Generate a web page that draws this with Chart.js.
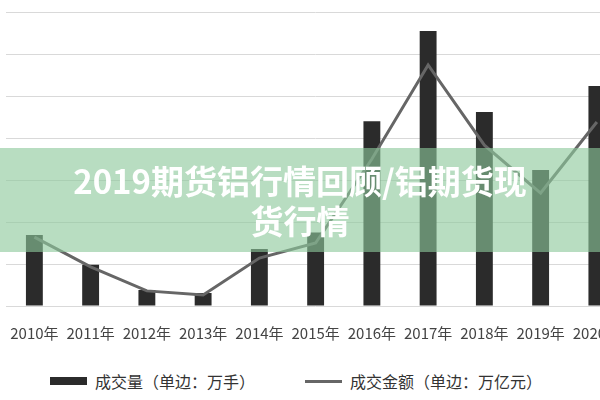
<!DOCTYPE html>
<html>
<head>
<meta charset="utf-8">
<script src="https://cdn.jsdelivr.net/npm/chart.js@4"></script>
<style>
body { margin: 0; width: 600px; height: 400px; overflow: hidden; background: #fff; position: relative; font-family: "Noto Sans CJK SC", sans-serif; }
#wrap { position: absolute; left: 0; top: 0; width: 632px; height: 352px; }
#banner { position: absolute; left: 0; top: 148px; width: 600px; height: 104px; background: rgba(140, 200, 155, 0.62);
  color: #fff; font-weight: bold; font-size: 33px; line-height: 40px; text-align: center; padding-top: 12px; box-sizing: border-box; }
.leg { position: absolute; top: 369px; font-size: 16px; color: #333; display: flex; align-items: center; }
.sw { display: inline-block; margin-right: 8px; }
</style>
</head>
<body>
<div id="wrap"><canvas id="myChart" width="632" height="352"></canvas></div>
<div id="banner">2019期货铝行情回顾/铝期货现<br>货行情</div>
<div class="leg" style="left:50px"><span class="sw" style="width:37px;height:8px;background:#2b2b2b"></span>成交量（单边：万手）</div>
<div class="leg" style="left:305px"><span class="sw" style="width:37px;height:3px;background:#666"></span>成交金额（单边：万亿元）</div>
<script>
// categories and values
let years = ['2010年', '2011年', '2012年', '2013年', '2014年', '2015年', '2016年', '2017年', '2018年', '2019年', '2020年'];
let volume = [1.69, 0.98, 0.38, 0.31, 1.36, 1.75, 4.40, 6.55, 4.62, 3.24, 5.24];
let amount = [1.64, 0.93, 0.36, 0.26, 1.14, 1.5, 3.5, 5.74, 3.83, 2.69, 4.38];

let ctx = document.getElementById('myChart').getContext('2d');
let myChart = new Chart(ctx, {
    type: 'bar',
    data: {
        labels: years,
        datasets: [{
            type: 'line',
            data: amount,
            borderColor: '#666',
            borderWidth: 3,
            pointRadius: 0,
            tension: 0,
            order: 0
        }, {
            data: volume,
            backgroundColor: '#2b2b2b',
            categoryPercentage: 1,
            barPercentage: 0.3,
            order: 1
        }]
    },
    options: {
        responsive: false,
        animation: false,
        layout: { padding: { left: 5, right: 7, top: 12, bottom: 0 } },
        plugins: { legend: { display: false }, tooltip: { enabled: false } },
        scales: {
            x: {
                grid: { display: false },
                border: { display: false },
                ticks: { color: '#444', font: { size: 15, family: 'Noto Sans CJK SC' }, padding: 10, maxRotation: 0, autoSkip: false }
            },
            y: {
                min: 0, max: 7,
                ticks: { display: false, stepSize: 1 },
                grid: { color: '#d9d9d9', drawTicks: false },
                border: { display: false }
            }
        }
    }
});
</script>
</body>
</html>
